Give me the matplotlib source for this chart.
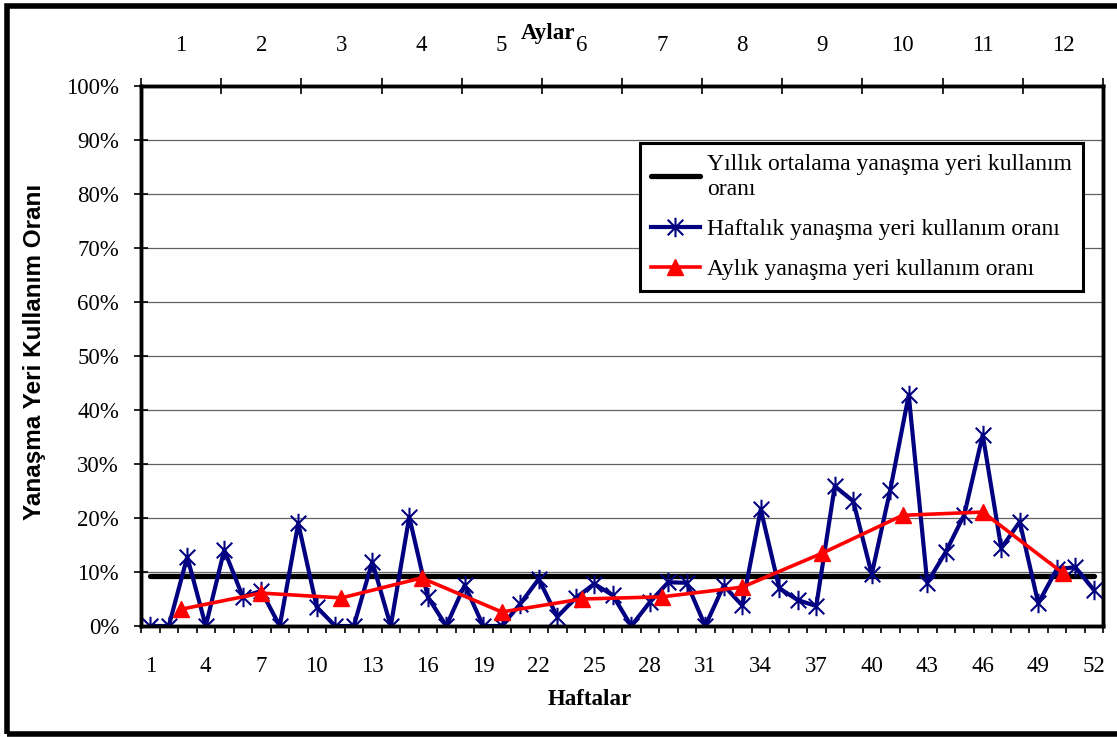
import numpy as np
import matplotlib
matplotlib.use("Agg")
import matplotlib.pyplot as plt
from matplotlib.path import Path
from matplotlib.patches import Rectangle
from matplotlib.ticker import FixedLocator, FuncFormatter

# ---- data (percent) ----
weeks = list(range(1, 53))
weekly_rate = [0, 0, 12.8, 0, 14.1, 5.4, 6.5, 0, 19.0, 3.5,
               0, 0, 11.9, 0, 20.2, 5.4, 0, 7.6, 0, 0,
               4.1, 8.7, 1.7, 5.2, 7.8, 5.7, 0, 4.4, 8.1, 8.0,
               0, 7.5, 3.8, 21.6, 7.0, 4.8, 3.7, 25.9, 23.1, 9.6,
               25.2, 42.8, 8.0, 13.7, 20.6, 35.4, 14.4, 19.3, 4.2, 10.5,
               10.9, 6.7]
months = list(range(1, 13))
monthly_rate = [3.1, 6.1, 5.2, 8.9, 2.6, 5.0, 5.4, 7.2, 13.5, 20.5, 21.1, 9.8]
annual_avg = 9.2
week_tick_labels = list(range(1, 53, 3))
y_ticks = list(range(0, 101, 10))

label_avg = "Yıllık ortalama yanaşma yeri kullanım\noranı"
label_week = "Haftalık yanaşma yeri kullanım oranı"
label_month = "Aylık yanaşma yeri kullanım oranı"

serif = ["Liberation Serif", "DejaVu Serif"]
sans = ["Liberation Sans", "DejaVu Sans"]

fig = plt.figure(figsize=(11.17, 7.37), dpi=100)
L, R, B, T = 141 / 1117, 1103 / 1117, 1 - 626 / 737, 1 - 86 / 737
ax = fig.add_axes([L, B, R - L, T - B])

# asterisk marker (X + vertical bar)
ast = Path([(-1, -1), (1, 1), (-1, 1), (1, -1), (0, -1.25), (0, 1.25)],
           [Path.MOVETO, Path.LINETO, Path.MOVETO, Path.LINETO, Path.MOVETO, Path.LINETO])

ax.set_xlim(0.5, 52.5)
ax.set_ylim(0, 100)
ax.yaxis.grid(True, color="#606060", lw=0.9)
ax.set_axisbelow(True)

h_avg, = ax.plot(weeks, [annual_avg] * len(weeks), color="black", lw=3.8,
                 solid_capstyle="round", zorder=3)
h_week, = ax.plot(weeks, weekly_rate, color="#000080", lw=3.0, marker=ast,
                  ms=14, mew=1.5, mec="#000080", mfc="none", zorder=4)

ax.xaxis.set_major_locator(FixedLocator(week_tick_labels))
ax.xaxis.set_minor_locator(FixedLocator(np.arange(0.5, 53, 1)))
ax.tick_params(axis="x", which="major", length=0, pad=21.6, labelsize=16.5)
ax.tick_params(axis="x", which="minor", length=5, width=1.2, direction="out")
ax.set_yticks(y_ticks)
ax.yaxis.set_major_formatter(FuncFormatter(lambda v, p: f"{int(v)}%"))
ax.tick_params(axis="y", length=10, width=1.2, direction="inout", pad=10.8, labelsize=16.5)
for lab in ax.get_xticklabels() + ax.get_yticklabels():
    lab.set_family(serif)

ax.set_xlabel("Haftalar", family=serif, fontsize=16.5, fontweight="bold")
ax.xaxis.set_label_coords((590 - 141) / 962, (626 - 689) / 540)
ax.set_ylabel("Yanaşma Yeri Kullanım Oranı", family=sans, fontsize=17.5, fontweight="bold")
ax.yaxis.set_label_coords((35 - 141) / 962, 0.507)
ax.yaxis.label.set_va("center")

# monthly axis on top
ax2 = ax.twiny()
ax2.set_xlim(0.5, 12.5)
h_month, = ax2.plot(months, monthly_rate, color="#FF0000", lw=2.6, marker="^",
                    ms=12, mec="#FF0000", mfc="#FF0000", zorder=5)
ax2.xaxis.set_major_locator(FixedLocator(months))
ax2.xaxis.set_minor_locator(FixedLocator(np.arange(0.5, 13, 1)))
ax2.tick_params(axis="x", which="major", length=0, pad=21.6, labelsize=16.5)
ax2.tick_params(axis="x", which="minor", length=11, width=1.2, direction="inout")
for lab in ax2.get_xticklabels():
    lab.set_family(serif)

for a in (ax, ax2):
    for s in a.spines.values():
        s.set_linewidth(2.5)
        s.set_color("black")

fig.text(548 / 1117, 1 - 33 / 737, "Aylar", family=serif, fontsize=16.5,
         fontweight="bold", ha="center", va="center")

leg = ax2.legend([h_avg, h_week, h_month], [label_avg, label_week, label_month],
                 loc="upper left", bbox_to_anchor=((640 - 141) / 962, (626 - 143) / 540),
                 prop={"family": serif, "size": 17}, frameon=True, fancybox=False,
                 edgecolor="black", framealpha=1, handlelength=2.1, handletextpad=0.3,
                 labelspacing=0.8, borderpad=0.45, borderaxespad=0)
leg.get_frame().set_linewidth(2.2)
for t in leg.get_texts():
    t.set_linespacing(1.25)

# outer figure border
fig.patches.append(Rectangle((7 / 1117, 1 - 734 / 737), 1.2, (734 - 6) / 737,
                             transform=fig.transFigure, fill=False, lw=4,
                             edgecolor="black", zorder=10))

fig.savefig("out.png", dpi=100)
